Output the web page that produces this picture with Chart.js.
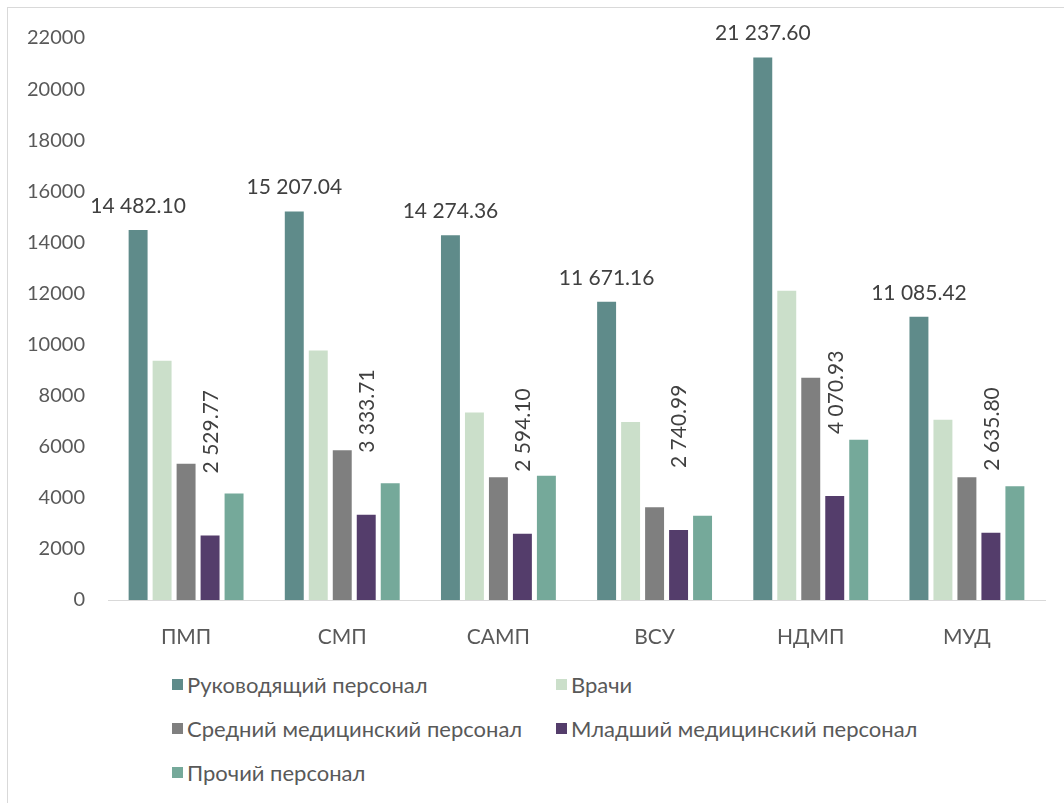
<!DOCTYPE html>
<html>
<head>
<meta charset="utf-8">
<script src="https://cdn.jsdelivr.net/npm/chart.js@4"></script>
<style>
  body { margin:0; width:1064px; height:803px; overflow:hidden; background:#fff; position:relative; font-family: Lato, "Noto Sans", sans-serif; }
  #frame { position:absolute; left:7px; top:7px; width:1100px; height:900px; border:1px solid #d9d9d9; }
  #c { position:absolute; left:0; top:0; }
  #legend { position:absolute; left:172px; top:668px; display:grid; grid-template-columns:384px 400px; row-gap:12px; color:#595959; font-size:22px; }
  #legend div { display:flex; align-items:center; height:32px; }
  #legend span.box { width:11px; height:11px; margin-right:4px; display:inline-block; }
</style>
</head>
<body>
<div id="frame"></div>
<canvas id="c" width="1064" height="660"></canvas>
<div id="legend"></div>
<script>
// категории и ряды
const kategorii = ["ПМП", "СМП", "САМП", "ВСУ", "НДМП", "МУД"];
const serii = ["Руководящий персонал", "Врачи", "Средний медицинский персонал", "Младший медицинский персонал", "Прочий персонал"];
const rukovod = [14482.10, 15207.04, 14274.36, 11671.16, 21237.60, 11085.42];
const vrachi = [9370, 9770, 7340, 6970, 12110, 7060];
const sredniy = [5330, 5860, 4810, 3630, 8700, 4810];
const mladshiy = [2529.77, 3333.71, 2594.10, 2740.99, 4070.93, 2635.80];
const prochiy = [4170, 4570, 4860, 3300, 6270, 4450];
const yTicks = [0, 2000, 4000, 6000, 8000, 10000, 12000, 14000, 16000, 18000, 20000, 22000];

const colores = ["#5f8b8a", "#cbdfca", "#7f7f7f", "#543d6b", "#75a99a"];
const valores = [rukovod, vrachi, sredniy, mladshiy, prochiy];

function formato(v) {
  let s = v.toFixed(2).split('.');
  s[0] = s[0].replace(/\B(?=(\d{3})+(?!\d))/g, ' ');
  return s[0] + '.' + s[1];
}

// подписи данных: первый ряд горизонтально, четвёртый повёрнуто
const etiquetas = {
  id: 'etiquetas',
  afterDatasetsDraw(chart) {
    const ctx = chart.ctx;
    ctx.save();
    ctx.fillStyle = '#404040';
    ctx.font = '21px Lato, "Noto Sans", sans-serif';
    chart.getDatasetMeta(0).data.forEach((bar, i) => {
      ctx.textAlign = 'center';
      ctx.textBaseline = 'middle';
      ctx.fillText(formato(rukovod[i]), bar.x, bar.y - 24);
    });
    chart.getDatasetMeta(3).data.forEach((bar, i) => {
      ctx.save();
      ctx.translate(bar.x + 1, bar.y - 62);
      ctx.rotate(-Math.PI / 2);
      ctx.textAlign = 'left';
      ctx.textBaseline = 'middle';
      ctx.fillText(formato(mladshiy[i]), 0, 0);
      ctx.restore();
    });
    ctx.restore();
  }
};

new Chart(document.getElementById("c"), {
  type: 'bar',
  data: {
    labels: kategorii,
    datasets: serii.map((n, k) => ({
      label: n,
      data: valores[k],
      backgroundColor: colores[k],
      borderWidth: 0,
      categoryPercentage: 0.768,
      barPercentage: 0.79
    }))
  },
  options: {
    responsive: false,
    animation: false,
    devicePixelRatio: 1,
    layout: { padding: { top: 38, right: 19, bottom: 0, left: 0 } },
    plugins: { legend: { display: false }, tooltip: { enabled: false } },
    scales: {
      x: {
        grid: { display: false },
        border: { display: true, color: '#d9d9d9', width: 1 },
        ticks: { color: '#595959', font: { size: 21, family: 'Lato, "Noto Sans", sans-serif' }, padding: 17 },
        afterFit(scale) { scale.height = 60; }
      },
      y: {
        min: 0,
        max: 22000,
        grid: { display: false, drawTicks: false },
        border: { display: false },
        afterBuildTicks(scale) { scale.ticks = yTicks.map(v => ({ value: v })); },
        ticks: {
          color: '#595959',
          font: { size: 20, family: 'Lato, "Noto Sans", sans-serif' },
          padding: 23,
          callback: v => String(v)
        },
        afterFit(scale) { scale.width = 108; }
      }
    }
  },
  plugins: [etiquetas]
});

const leyenda = document.getElementById('legend');
serii.forEach((n, k) => {
  const d = document.createElement('div');
  d.innerHTML = '<span class="box" style="background:' + colores[k] + '"></span>' + n;
  leyenda.appendChild(d);
});
</script>
</body>
</html>
